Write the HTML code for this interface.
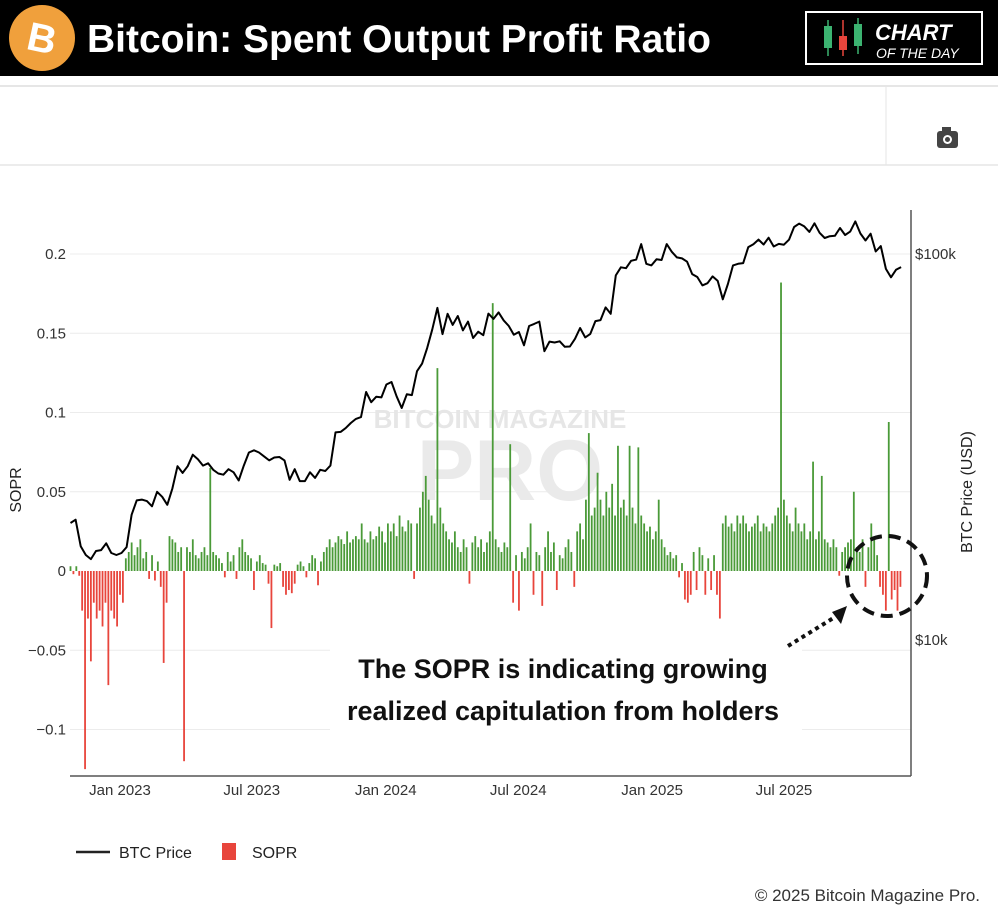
<!DOCTYPE html>
<html><head><meta charset="utf-8"><style>
body{margin:0;width:998px;height:918px;background:#fff;overflow:hidden;font-family:"Liberation Sans","DejaVu Sans",sans-serif}
#wrap{position:relative;width:998px;height:918px}
</style></head><body><div id="wrap">
<svg id="chart" width="998" height="918" viewBox="0 0 998 918" xmlns="http://www.w3.org/2000/svg">
<rect x="0" y="0" width="998" height="76" fill="#000"/>
<g><circle cx="42" cy="38" r="33" fill="#f0a03c"/><text x="42" y="52" text-anchor="middle" font-size="40" font-weight="bold" fill="#fff" transform="rotate(12 42 38)">B</text></g>
<text x="87" y="52" font-size="39" font-weight="bold" fill="#fff">Bitcoin: Spent Output Profit Ratio</text>
<g><rect x="806" y="12" width="176" height="52" fill="#000" stroke="#fff" stroke-width="2"/>
<line x1="828" y1="20" x2="828" y2="56" stroke="#3cb371" stroke-width="1.5"/><rect x="824" y="26" width="8" height="22" fill="#3cb371"/>
<line x1="843" y1="20" x2="843" y2="56" stroke="#e8453c" stroke-width="1.5"/><rect x="839" y="36" width="8" height="14" fill="#e8453c"/>
<line x1="858" y1="18" x2="858" y2="54" stroke="#3cb371" stroke-width="1.5"/><rect x="854" y="24" width="8" height="22" fill="#3cb371"/>
<text x="875" y="40" font-size="22" font-weight="bold" font-style="italic" fill="#fff">CHART</text>
<text x="876" y="58" font-size="14" font-style="italic" fill="#fff">OF THE DAY</text></g>
<line x1="0" y1="86" x2="998" y2="86" stroke="#e6e6e6" stroke-width="2"/>
<line x1="0" y1="165" x2="998" y2="165" stroke="#e6e6e6" stroke-width="1.5"/>
<line x1="886" y1="86" x2="886" y2="165" stroke="#e6e6e6"/>
<g><rect x="937" y="131" width="21" height="17" rx="3" fill="#444"/><rect x="942" y="127" width="9" height="5" fill="#444"/><circle cx="947.5" cy="139.5" r="4.5" fill="#fff"/><circle cx="947.5" cy="139.5" r="2.5" fill="#444"/></g>
<g id="grid"></g>
<text x="500" y="428" text-anchor="middle" font-size="26" font-weight="bold" fill="#e6e6e6">BITCOIN MAGAZINE</text>
<text x="510" y="500" text-anchor="middle" font-size="86" font-weight="bold" fill="#eaeaea">PRO</text>
<g id="bars"></g>
<path id="price" fill="none" stroke="#000" stroke-width="2" stroke-linejoin="round"/>
<line x1="70" y1="776" x2="911" y2="776" stroke="#555" stroke-width="1.5"/>
<line x1="911" y1="210" x2="911" y2="776" stroke="#555" stroke-width="1.5"/>
<g id="ticks" font-size="15" fill="#333"></g>
<text transform="translate(21 490) rotate(-90)" text-anchor="middle" font-size="16" fill="#222">SOPR</text>
<text transform="translate(972 492) rotate(-90)" text-anchor="middle" font-size="16" fill="#222">BTC Price (USD)</text>
<rect x="330" y="645" width="472" height="90" fill="#fff"/>
<text x="563" y="678" text-anchor="middle" font-size="27" font-weight="bold" fill="#111">The SOPR is indicating growing</text>
<text x="563" y="720" text-anchor="middle" font-size="27" font-weight="bold" fill="#111">realized capitulation from holders</text>
<ellipse cx="887" cy="576" rx="40" ry="40" fill="none" stroke="#111" stroke-width="4" stroke-dasharray="12 7"/>
<line x1="788" y1="646" x2="835" y2="617" stroke="#111" stroke-width="4" stroke-dasharray="4 4"/>
<polygon points="847,606 832,612 841,624" fill="#111"/>
<g>
<line x1="76" y1="852" x2="110" y2="852" stroke="#222" stroke-width="2.5"/>
<text x="119" y="858" font-size="16" fill="#222">BTC Price</text>
<rect x="222" y="843" width="14" height="17" fill="#e8453c"/>
<text x="252" y="858" font-size="16" fill="#222">SOPR</text></g>
<text x="980" y="901" text-anchor="end" font-size="17" fill="#333">© 2025 Bitcoin Magazine Pro.</text>
</svg></div>
<script>
const soprStart = "2022-10-25";
const soprStepDays = 4;
const soprValues = [
0.003,-0.002,0.003,-0.003,-0.025,-0.125,-0.03,-0.057,-0.02,-0.03,
-0.025,-0.035,-0.02,-0.072,-0.025,-0.03,-0.035,-0.015,-0.02,0.008,
0.012,0.018,0.01,0.015,0.02,0.008,0.012,-0.005,0.01,-0.006,
0.006,-0.01,-0.058,-0.02,0.022,0.02,0.018,0.012,0.015,-0.12,
0.015,0.012,0.02,0.01,0.008,0.012,0.015,0.01,0.065,0.012,
0.01,0.008,0.005,-0.004,0.012,0.006,0.01,-0.005,0.015,0.02,
0.012,0.01,0.008,-0.012,0.006,0.01,0.005,0.004,-0.008,-0.036,
0.004,0.003,0.005,-0.01,-0.015,-0.012,-0.014,-0.008,0.004,0.006,
0.003,-0.004,0.005,0.01,0.008,-0.009,0.006,0.012,0.015,0.02,
0.015,0.018,0.022,0.02,0.017,0.025,0.018,0.02,0.022,0.02,
0.03,0.02,0.018,0.025,0.02,0.022,0.028,0.025,0.018,0.03,
0.025,0.03,0.022,0.035,0.028,0.025,0.032,0.03,-0.005,0.03,
0.04,0.05,0.06,0.045,0.035,0.03,0.128,0.04,0.03,0.025,
0.02,0.018,0.025,0.015,0.012,0.02,0.015,-0.008,0.018,0.022,
0.015,0.02,0.012,0.018,0.025,0.169,0.02,0.015,0.012,0.018,
0.015,0.08,-0.02,0.01,-0.025,0.012,0.008,0.015,0.03,-0.015,
0.012,0.01,-0.022,0.015,0.025,0.012,0.018,-0.012,0.01,0.008,
0.015,0.02,0.012,-0.01,0.025,0.03,0.02,0.045,0.087,0.035,
0.04,0.062,0.045,0.035,0.05,0.04,0.055,0.035,0.079,0.04,
0.045,0.035,0.079,0.04,0.03,0.078,0.035,0.03,0.025,0.028,
0.02,0.025,0.045,0.02,0.015,0.01,0.012,0.008,0.01,-0.004,
0.005,-0.018,-0.02,-0.015,0.012,-0.012,0.015,0.01,-0.015,0.008,
-0.012,0.01,-0.015,-0.03,0.03,0.035,0.028,0.03,0.025,0.035,
0.03,0.035,0.03,0.025,0.028,0.03,0.035,0.025,0.03,0.028,
0.025,0.03,0.035,0.04,0.182,0.045,0.035,0.03,0.025,0.04,
0.03,0.025,0.03,0.02,0.025,0.069,0.02,0.025,0.06,0.02,
0.018,0.015,0.02,0.015,-0.003,0.012,0.015,0.018,0.02,0.05,
0.015,0.012,0.02,-0.01,0.015,0.03,0.02,0.01,-0.01,-0.015,
-0.025,0.094,-0.018,-0.012,-0.025,-0.01];
const priceStart = "2022-10-25";
const priceStepDays = 7;
const priceValues = [
20.1,20.5,17.5,16.6,16.2,17.0,17.1,17.8,16.8,16.6,
16.8,17.4,21.1,23.0,23.1,22.9,22.2,24.2,23.5,22.4,24.7,28.2,27.1,28.2,30.2,29.4,28.3,28.7,27.6,27.0,26.8,27.7,27.2,25.9,28.3,30.6,31.0,30.6,29.9,29.2,29.7,29.8,29.2,26.0,27.7,25.8,25.8,27.2,26.3,27.6,27.4,28.3,34.5,34.6,35.4,36.5,37.4,37.8,43.9,41.3,42.7,42.5,
45.9,46.6,42.8,39.9,43.3,43.1,49.7,52.0,57.1,63.8,72.5,62.0,70.0,65.5,69.1,63.4,66.8,60.6,62.9,61.6,70.1,67.9,70.6,67.3,65.1,61.8,62.8,58.0,65.1,65.9,66.8,56.0,59.3,59.0,59.4,57.5,57.6,60.3,64.3,60.8,62.1,67.0,67.4,72.7,70.0,88.0,92.4,91.9,96.0,96.7,106.1,94.3,93.4,
96.9,96.5,106.1,101.3,98.0,97.4,95.5,88.7,87.2,82.9,84.0,87.5,85.2,76.3,83.6,93.4,94.3,94.7,104.2,106.0,109.0,105.8,110.2,104.6,106.2,105.7,108.9,117.5,119.9,117.9,114.1,120.1,113.5,110.0,111.2,111.5,116.8,112.0,114.3,121.5,113.0,108.4,112.9,101.5,104.8,91.5,87.0,91.0,92.5];
const soprTicks = [0.2,0.15,0.1,0.05,0,-0.05,-0.1];
const soprTickLabels = ["0.2","0.15","0.1","0.05","0","\u22120.05","\u22120.1"];
const dateTicks = ["2023-01-01","2023-07-01","2024-01-01","2024-07-01","2025-01-01","2025-07-01"];
const dateTickLabels = ["Jan 2023","Jul 2023","Jan 2024","Jul 2024","Jan 2025","Jul 2025"];
const priceTicks = [100,10];
const priceTickLabels = ["$100k","$10k"];

const NS="http://www.w3.org/2000/svg";
const DAY=86400000;
const t0=Date.parse("2023-01-01");
function xScale(d){return 120+(Date.parse(d)-t0)/DAY*0.728;}
function xDays(start,days){return 120+((Date.parse(start)-t0)/DAY+days)*0.728;}
function yS(v){return 571-v*1585;}
function yP(p){return 640-Math.log10(p/10)*386;}
function mk(tag,attrs){const e=document.createElementNS(NS,tag);for(const k in attrs)e.setAttribute(k,attrs[k]);return e;}
const grid=document.getElementById('grid'),ticks=document.getElementById('ticks'),bars=document.getElementById('bars');
soprTicks.forEach((v,i)=>{
  if(v!==0){const l=mk('line',{x1:70,x2:911,y1:yS(v),y2:yS(v),stroke:'#ececec','stroke-width':1});
  
  
  grid.appendChild(l);}
  const t=mk('text',{x:66,y:yS(v)+5,'text-anchor':'end'});t.textContent=soprTickLabels[i];
  
  
  ticks.appendChild(t);
});
dateTicks.forEach((d,i)=>{
  const t=mk('text',{x:xScale(d),y:795,'text-anchor':'middle'});t.textContent=dateTickLabels[i];
  
  
  ticks.appendChild(t);
});
priceTicks.forEach((p,i)=>{
  const t=mk('text',{x:915,y:yP(p)+5});t.textContent=priceTickLabels[i];
  
  
  ticks.appendChild(t);
});
soprValues.forEach((v,i)=>{
  const x=xDays(soprStart,i*soprStepDays);
  const y0=yS(0),y1=yS(v);
  const r=mk('rect',{x:x-0.9,width:1.8,y:Math.min(y0,y1),height:Math.max(0.5,Math.abs(y1-y0)),fill:v>=0?'#4a9a38':'#e8453c'});
  
  
  bars.appendChild(r);
});
let d='';
priceValues.forEach((p,i)=>{d+=(i?'L':'M')+xDays(priceStart,i*priceStepDays).toFixed(1)+','+yP(p).toFixed(1);});
document.getElementById('price').setAttribute('d',d);
</script>
</body></html>
